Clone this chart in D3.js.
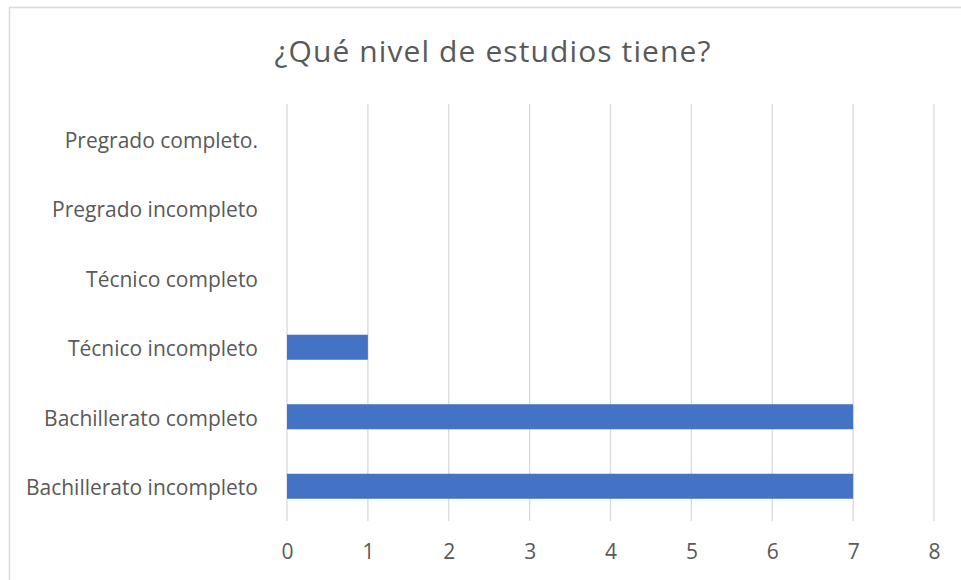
<!DOCTYPE html>
<html>
<head>
<meta charset="utf-8">
<script src="https://cdn.jsdelivr.net/npm/d3@7"></script>
<style>
  html, body { margin: 0; padding: 0; background: #fff; }
  svg { display: block; }
  text { font-family: "Open Sans", sans-serif; fill: #595959; }
</style>
</head>
<body>
<svg id="chart" width="961" height="580"></svg>
<script>
const title = "¿Qué nivel de estudios tiene?";
const categories = [
  "Bachillerato incompleto",
  "Bachillerato completo",
  "Técnico incompleto",
  "Técnico completo",
  "Pregrado incompleto ",
  "Pregrado completo."
];
const values = [7, 7, 1, 0, 0, 0];
const xTicks = [0, 1, 2, 3, 4, 5, 6, 7, 8];

const FONT = "'Open Sans', sans-serif";
const svg = d3.select("#chart");
const W = 961, H = 580;
const margin = { left: 287, right: 27, top: 104, bottom: 59 };

svg.append("rect").attr("x", 9.5).attr("y", 7.5)
  .attr("width", W).attr("height", H)
  .attr("fill", "none").attr("stroke", "#d9d9d9").attr("stroke-width", 1.5);

const x = d3.scaleLinear().domain([0, 8]).range([margin.left, W - margin.right]);
const y = d3.scaleBand().domain(categories).range([H - margin.bottom, margin.top])
  .paddingInner(0.64).paddingOuter(0.32);

svg.append("text").attr("x", 493).attr("y", 62)
  .attr("text-anchor", "middle").attr("font-size", 30)
  .attr("letter-spacing", 1.1).text(title);

// gridlines
svg.append("g").selectAll("line").data(xTicks).join("line")
  .attr("x1", d => x(d)).attr("x2", d => x(d))
  .attr("y1", margin.top).attr("y2", H - margin.bottom)
  .attr("stroke", "#d9d9d9").attr("stroke-width", 1.3);

// bars
svg.append("g").selectAll("rect").data(values).join("rect")
  .attr("x", x(0)).attr("y", (d, i) => y(categories[i]))
  .attr("width", d => x(d) - x(0)).attr("height", y.bandwidth())
  .attr("fill", "#4472c4");

// x axis
const xAxis = d3.axisBottom(x).tickValues(xTicks).tickSize(0).tickPadding(23);
const gx = svg.append("g").attr("transform", `translate(0,${H - margin.bottom})`).call(xAxis);
gx.select(".domain").remove();
gx.selectAll("text").attr("font-size", 21).style("font-family", FONT).attr("fill", "#595959");

// y axis
const yAxis = d3.axisLeft(y).tickSize(0).tickPadding(29);
const gy = svg.append("g").attr("transform", `translate(${margin.left},0)`).call(yAxis);
gy.select(".domain").remove();
gy.selectAll("text").attr("font-size", 21).attr("dy", "0.42em")
  .style("font-family", FONT).attr("fill", "#595959");
</script>
</body>
</html>
